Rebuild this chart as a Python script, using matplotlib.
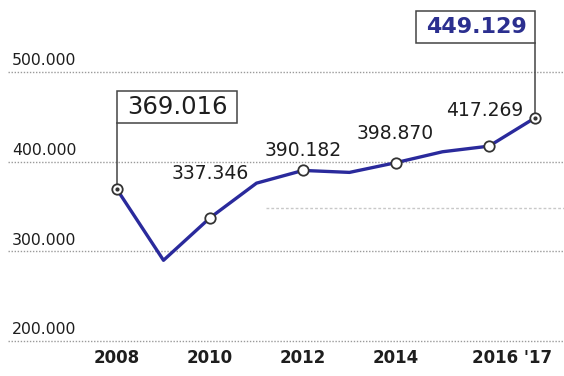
import matplotlib
matplotlib.use("Agg")
import matplotlib.pyplot as plt
import matplotlib.transforms as mtrans
from matplotlib.patches import Rectangle

years = [2008, 2009, 2010, 2011, 2012, 2013, 2014, 2015, 2016, 2017]
values = [369016, 290000, 337346, 376000, 390182, 388000, 398870, 411000, 417269, 449129]
labeled_years = [2010, 2012, 2014, 2016]
labeled_values = [337346, 390182, 398870, 417269]
marker_years = [2008, 2010, 2012, 2014, 2016, 2017]
yticks = [200000, 300000, 400000, 500000]
ytick_labels = ["200.000", "300.000", "400.000", "500.000"]
xticks = [2008, 2010, 2012, 2014, 2016.5]
xtick_labels = ["2008", "2010", "2012", "2014", "2016 '17"]

LINE = "#2a2a9c"
TXT = "#1e1e1e"

fig = plt.figure(figsize=(5.64, 3.76), dpi=100)
ax = fig.add_axes([0, 0, 1, 1])
ax.set_xlim(2005.484, 2017.613)
ax.set_ylim(161000, 580200)
ax.axis("off")

blend = mtrans.blended_transform_factory(ax.transAxes, ax.transData)
# grid lines
for v, lab in zip(yticks, ytick_labels):
    ax.plot([0.014, 1.0], [v, v], transform=blend, color="#9a9a9a",
            lw=1.0, ls=(0, (1, 1.2)), zorder=1)
    ax.text(0.021, v + 4000, lab, transform=blend, fontsize=11.3,
            color=TXT, ha="left", va="bottom", family="DejaVu Sans")
# faint partial line
ax.plot([2011.2, 2017.613], [348000, 348000], color="#c8c8c8", lw=1.0,
        ls=(0, (2, 1.5)), zorder=1)

# main line
ax.plot(years, values, color=LINE, lw=2.4, zorder=3, solid_joinstyle="round")
mv = [values[years.index(y)] for y in marker_years]
ax.plot(marker_years, mv, ls="none", marker="o", ms=7.5, mfc="white",
        mec="#333333", mew=1.3, zorder=4)
for y in (2008, 2017):
    ax.plot([y], [values[years.index(y)]], ls="none", marker="o", ms=2,
            color="#333333", zorder=5)

# value labels (text centres)
label_pos = {2010: (2010.0, 387000), 2012: (2012.0, 412000),
             2014: (2013.98, 431000), 2016: (2015.9, 457500)}
for y, v in zip(labeled_years, labeled_values):
    px, py = label_pos[y]
    ax.text(px, py, f"{v/1000:.3f}", fontsize=13.5, color=TXT,
            ha="center", va="center", family="DejaVu Sans")

# boxed labels
v0 = values[0]
ax.plot([2008, 2008], [v0, 443000], color="#444444", lw=1.1, zorder=2)
ax.add_patch(Rectangle((2008, 443000), 2.58, 35800, fc="white",
                       ec="#444444", lw=1.1, zorder=2))
ax.text(2009.29, 461000, f"{v0/1000:.3f}", fontsize=17.5, color=TXT,
        ha="center", va="center", family="DejaVu Sans", zorder=3)
vl = values[-1]
ax.plot([2017, 2017], [vl, 532300], color="#444444", lw=1.1, zorder=2)
ax.add_patch(Rectangle((2014.44, 532300), 2.56, 35600, fc="white",
                       ec="#444444", lw=1.1, zorder=2))
ax.text(2015.73, 550000, f"{vl/1000:.3f}", fontsize=16, color="#2b2f8f",
        fontweight="bold", ha="center", va="center", family="DejaVu Sans",
        zorder=3)

# x tick labels
xblend = mtrans.blended_transform_factory(ax.transData, ax.transAxes)
for x, lab in zip(xticks, xtick_labels):
    ax.text(x, 0.024, lab, transform=xblend, fontsize=12, fontweight="bold",
            color=TXT, ha="center", va="bottom", family="DejaVu Sans")

fig.savefig("out.png", dpi=100, facecolor="white")
